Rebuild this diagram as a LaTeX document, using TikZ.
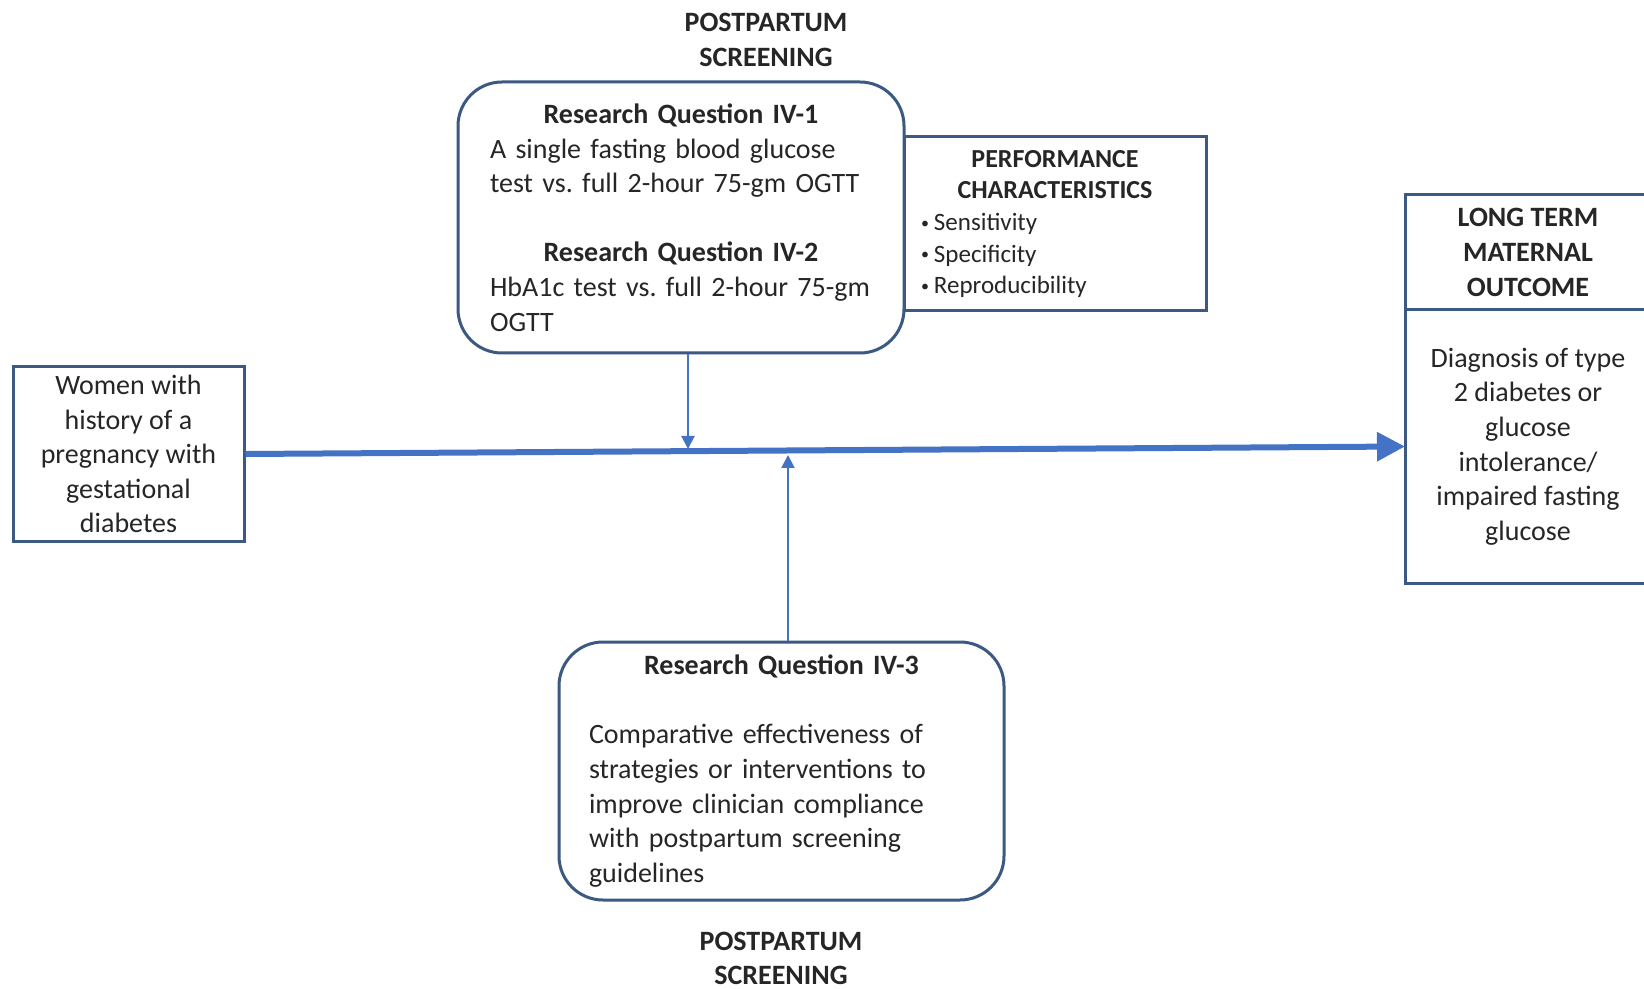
\documentclass[tikz,border=0pt]{standalone}
\usepackage{fontspec}
\setmainfont{Carlito}
\usetikzlibrary{arrows.meta,positioning}
\setlength\parindent{0pt}

\definecolor{boxblue}{RGB}{59,89,130}
\definecolor{linkblue}{RGB}{68,114,196}
\definecolor{txt}{RGB}{38,38,38}

\newcommand{\smallbul}{\raisebox{0.2ex}{\fontsize{8}{8}\selectfont\textbullet}\hspace{2.5pt}}

\tikzset{
  sbox/.style={draw=boxblue, line width=1.5pt, text=txt, font=\fontsize{14}{17.3}\selectfont},
  rbox/.style={sbox, rounded corners=22pt},
  lbl/.style={text=txt, align=center, font=\fontsize{14}{17.3}\selectfont\bfseries},
  mainarrow/.style={draw=linkblue, line width=3pt, -{Triangle[length=14pt,width=14pt]}},
  feedarrow/.style={draw=linkblue, line width=1pt, -{Triangle[length=6.5pt,width=6.5pt]}}
}

\begin{document}
\begin{tikzpicture}[x=0.5pt,y=-0.5pt]
    \clip (0,0) rectangle (1644,989);
    \fill[white] (0,0) rectangle (1644,989);

\node[lbl] (topLbl) at (766,40) {POSTPARTUM\\SCREENING};
\node[lbl] (botLbl) at (781,958.5) {POSTPARTUM\\SCREENING};

\node[sbox, minimum width=115.5pt, minimum height=87pt, align=center] (women) at (128.5,454)
    {Women with\\history of a\\pregnancy with\\gestational\\diabetes};

\node[rbox, minimum width=223pt, minimum height=135.5pt, text width=191pt, align=left] (rq12) at (681,217.5)
    {{\centering\bfseries Research Question IV-1\par}
     A single fasting blood glucose\\test vs.\ full 2-hour 75-gm OGTT\par
     \vspace{17.3pt}
     {\centering\bfseries Research Question IV-2\par}
     HbA1c test vs.\ full 2-hour 75-gm\\OGTT};

\node[sbox, minimum width=151pt, minimum height=87pt, text width=134pt, inner xsep=8.5pt, align=left,
      font=\fontsize{12.5}{15.8}\selectfont] (perf) at (1055,224)
    {{\centering\bfseries\fontsize{13}{15.8}\selectfont PERFORMANCE\\CHARACTERISTICS\par}
     \smallbul Sensitivity\\\smallbul Specificity\\\smallbul Reproducibility};

\node[rbox, minimum width=222.5pt, minimum height=129pt, text width=192.5pt, align=left] (rq3) at (781.5,771)
    {{\centering\bfseries Research Question IV-3\par}
     \vspace{17.3pt}
     Comparative effectiveness of\\strategies or interventions to\\improve clinician compliance\\with postpartum screening\\guidelines};

\node[sbox, outer sep=0pt, minimum width=123pt, minimum height=57.5pt, align=center,
      font=\fontsize{14}{17.3}\selectfont\bfseries] (ltHead) at (1528,252.5)
    {LONG TERM\\MATERNAL\\OUTCOME};
\node[sbox, outer sep=0pt, minimum width=123pt, minimum height=136.5pt, align=center, below=0pt of ltHead] (ltBody)
    {Diagnosis of type\\2 diabetes or\\glucose\\intolerance/\\impaired fasting\\glucose};

%  main line
\draw[mainarrow] (women.east) -- (ltBody.west);

\coordinate (inA) at (688,449);
\coordinate (inB) at (788,455);
\draw[feedarrow] (rq12.south -| inA) -- (inA);
\draw[feedarrow] (rq3.north -| inB) -- (inB);

\end{tikzpicture}
\end{document}
